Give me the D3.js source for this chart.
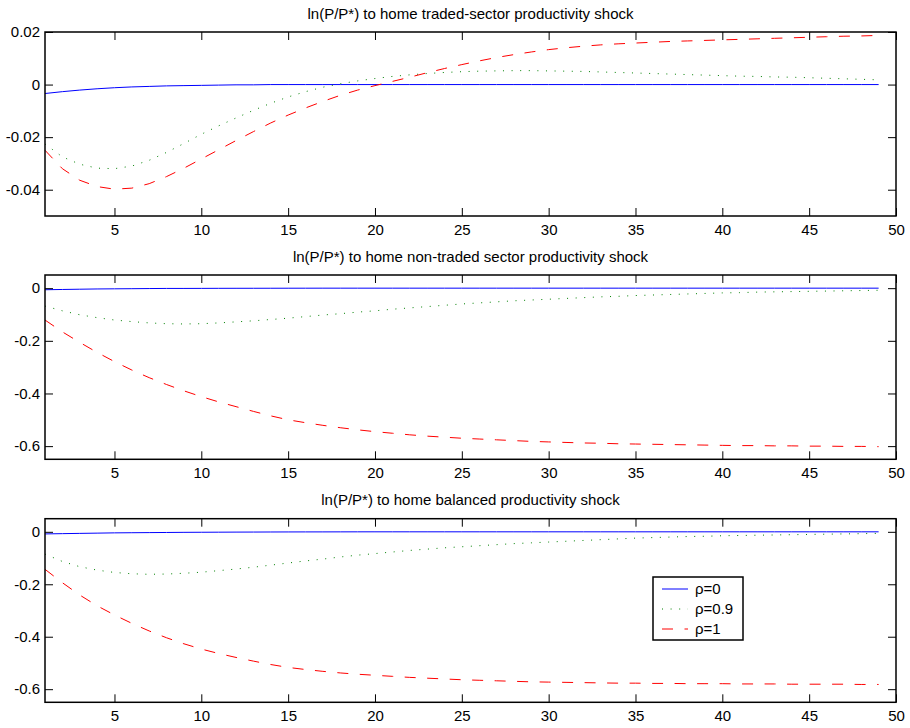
<!DOCTYPE html>
<html>
<head>
<meta charset="utf-8">
<script src="https://cdn.jsdelivr.net/npm/d3@7"></script>
<style>
  html, body { margin: 0; padding: 0; background: #fff; }
  svg { display: block; }
  text { font-family: "Liberation Sans", Arial, Helvetica, sans-serif; fill: #000; }
</style>
</head>
<body>
<svg id="chart" width="910" height="728"></svg>
<script>
// ---------------- data ----------------
const periods = d3.range(1, 50); // 1..49

const titles = [
  "ln(P/P*) to home traded-sector productivity shock",
  "ln(P/P*) to home non-traded sector productivity shock",
  "ln(P/P*) to home balanced productivity shock"
];

const seriesNames = ["ρ=0", "ρ=0.9", "ρ=1"];

const xTicks = [5, 10, 15, 20, 25, 30, 35, 40, 45, 50];
const yTicksTop = [-0.04, -0.02, 0, 0.02];
const yTicksLower = [-0.6, -0.4, -0.2, 0];
const yDomainTop = [-0.05, 0.02];
const yDomainLower = [-0.65, 0.05];

// Panel 1: traded-sector shock
const traded_rho0 = [-0.0034,-0.0027,-0.0021,-0.0016,-0.0012,-0.0009,-0.0007,-0.0005,-0.0004,-0.0003,
  -0.0002,-0.0001,-0.0001,0,0,0,0,0,0,0,0,0,0,0,0,0,0,0,0,0,0,0,0,0,0,0,0,0,0,0,0,0,0,0,0,0,0,0,0];
const traded_rho09 = [-0.0226,-0.0275,-0.0303,-0.0318,-0.0320,-0.0310,-0.0288,-0.0258,-0.0224,-0.0189,
  -0.0157,-0.0127,-0.0098,-0.0071,-0.0047,-0.0027,-0.0010,0.0003,0.0014,0.0023,
  0.0031,0.0037,0.0042,0.0046,0.0049,0.0051,0.0052,0.0053,0.0053,0.0052,
  0.0051,0.0050,0.0048,0.0046,0.0044,0.0042,0.0040,0.0038,0.0036,0.0034,
  0.0032,0.0031,0.0029,0.0028,0.0026,0.0024,0.0022,0.0020,0.0018];
const traded_rho1 = [-0.0250,-0.0320,-0.0364,-0.0388,-0.0398,-0.0394,-0.0377,-0.0350,-0.0318,-0.0283,
  -0.0248,-0.0213,-0.0179,-0.0146,-0.0116,-0.0089,-0.0064,-0.0041,-0.0021,-0.0004,
  0.0012,0.0028,0.0045,0.0061,0.0076,0.0090,0.0103,0.0114,0.0124,0.0133,
  0.0140,0.0146,0.0151,0.0155,0.0158,0.0161,0.0164,0.0166,0.0168,0.0170,
  0.0172,0.0174,0.0176,0.0178,0.0180,0.0182,0.0184,0.0185,0.0187];

// Panel 2: non-traded sector shock
const nontraded_rho0 = [-0.006,-0.005,-0.004,-0.003,-0.0025,-0.002,-0.0015,-0.001,-0.001,-0.0008,
  -0.0006,-0.0005,-0.0004,-0.0003,-0.0002,-0.0001,0,0,0,0,0,0,0,0,0,0,0,0,0,0,0,0,0,0,0,0,0,0,0,0,0,0,0,0,0,0,0,0,0];
const nontraded_rho09 = [-0.068,-0.086,-0.101,-0.112,-0.121,-0.127,-0.132,-0.135,-0.136,-0.135,
  -0.132,-0.128,-0.124,-0.119,-0.114,-0.108,-0.102,-0.097,-0.091,-0.086,
  -0.080,-0.075,-0.070,-0.065,-0.060,-0.056,-0.052,-0.048,-0.045,-0.042,
  -0.039,-0.036,-0.033,-0.031,-0.028,-0.026,-0.024,-0.022,-0.020,-0.018,
  -0.017,-0.015,-0.014,-0.013,-0.012,-0.011,-0.010,-0.009,-0.008];
const nontraded_rho1 = [-0.121,-0.166,-0.206,-0.244,-0.279,-0.311,-0.340,-0.366,-0.390,-0.412,
  -0.432,-0.450,-0.468,-0.485,-0.500,-0.511,-0.521,-0.530,-0.538,-0.545,
  -0.551,-0.557,-0.562,-0.566,-0.570,-0.573,-0.576,-0.579,-0.582,-0.584,
  -0.586,-0.588,-0.589,-0.591,-0.592,-0.593,-0.594,-0.595,-0.596,-0.597,
  -0.598,-0.598,-0.599,-0.599,-0.600,-0.600,-0.601,-0.601,-0.602];

// Panel 3: balanced shock
const balanced_rho0 = [-0.008,-0.007,-0.006,-0.005,-0.004,-0.0035,-0.003,-0.0025,-0.002,-0.0017,
  -0.0014,-0.0011,-0.0009,-0.0007,-0.0005,-0.0004,-0.0003,-0.0002,-0.0001,0,0,0,0,0,0,0,0,0,0,0,0,0,0,0,0,0,0,0,0,0,0,0,0,0,0,0,0,0,0];
const balanced_rho09 = [-0.085,-0.113,-0.133,-0.146,-0.155,-0.160,-0.162,-0.161,-0.158,-0.154,
  -0.148,-0.142,-0.135,-0.127,-0.119,-0.111,-0.104,-0.096,-0.089,-0.083,
  -0.077,-0.071,-0.066,-0.061,-0.057,-0.053,-0.049,-0.045,-0.042,-0.039,
  -0.036,-0.033,-0.030,-0.027,-0.024,-0.022,-0.020,-0.018,-0.017,-0.015,
  -0.014,-0.013,-0.012,-0.011,-0.010,-0.009,-0.008,-0.007,-0.006];
const balanced_rho1 = [-0.143,-0.194,-0.241,-0.282,-0.317,-0.349,-0.378,-0.404,-0.427,-0.447,
  -0.464,-0.479,-0.493,-0.506,-0.517,-0.525,-0.532,-0.538,-0.543,-0.547,
  -0.551,-0.555,-0.558,-0.561,-0.564,-0.566,-0.568,-0.570,-0.572,-0.573,
  -0.574,-0.575,-0.576,-0.577,-0.577,-0.578,-0.578,-0.579,-0.579,-0.579,
  -0.580,-0.580,-0.580,-0.581,-0.581,-0.581,-0.581,-0.582,-0.582];

// ---------------- layout / styles ----------------
const panels = [
  { title: titles[0], top: 32,    bottom: 216,   domain: yDomainTop,   ticks: yTicksTop,   series: [traded_rho0, traded_rho09, traded_rho1] },
  { title: titles[1], top: 275,   bottom: 459.3, domain: yDomainLower, ticks: yTicksLower, series: [nontraded_rho0, nontraded_rho09, nontraded_rho1] },
  { title: titles[2], top: 518.7, bottom: 702.3, domain: yDomainLower, ticks: yTicksLower, series: [balanced_rho0, balanced_rho09, balanced_rho1] }
];
const left = 45, right = 896;
const styles = [
  { color: "#0000ff", dash: null },
  { color: "#008000", dash: "1,7.6" },
  { color: "#ff0000", dash: "11,11.5" }
];
const fontSize = 15;
const tickLen = 8;

const svg = d3.select("#chart");
const x = d3.scaleLinear().domain([1, 50]).range([left, right]);
const fmt = d => (d === 0 ? "0" : String(d));

panels.forEach((p, pi) => {
  const y = d3.scaleLinear().domain(p.domain).range([p.bottom, p.top]);
  const g = svg.append("g");

  // lines
  const line = d3.line().x((d, i) => x(periods[i])).y(d => y(d));
  p.series.forEach((s, si) => {
    g.append("path")
      .datum(s)
      .attr("fill", "none")
      .attr("stroke", styles[si].color)
      .attr("stroke-width", 1)
      .attr("stroke-dasharray", styles[si].dash)
      .attr("d", line);
  });

  // axes (ticks inward)
  const ax = (axis, tf) => {
    const a = g.append("g").attr("transform", tf).call(axis);
    a.select(".domain").remove();
    a.selectAll(".tick line").attr("stroke", "#000").attr("stroke-width", 1);
    a.selectAll("text").style("font-size", fontSize + "px").attr("fill", "#000");
    return a;
  };
  ax(d3.axisBottom(x).tickValues(xTicks).tickFormat(d3.format("d")).tickSizeInner(-tickLen).tickSizeOuter(0).tickPadding(8),
     `translate(0,${p.bottom})`);
  ax(d3.axisTop(x).tickValues(xTicks).tickFormat("").tickSizeInner(-tickLen).tickSizeOuter(0),
     `translate(0,${p.top})`);
  ax(d3.axisLeft(y).tickValues(p.ticks).tickFormat(fmt).tickSizeInner(-tickLen).tickSizeOuter(0).tickPadding(5),
     `translate(${left},0)`);
  ax(d3.axisRight(y).tickValues(p.ticks).tickFormat("").tickSizeInner(-tickLen).tickSizeOuter(0),
     `translate(${right},0)`);

  // frame
  g.append("rect")
    .attr("x", left).attr("y", p.top)
    .attr("width", right - left).attr("height", p.bottom - p.top)
    .attr("fill", "none").attr("stroke", "#000").attr("stroke-width", 1.5);

  // title
  g.append("text")
    .attr("x", (left + right) / 2).attr("y", p.top - 13.5)
    .attr("text-anchor", "middle")
    .style("font-size", fontSize + "px")
    .text(p.title);
});

// legend (in bottom panel)
const lg = svg.append("g").attr("transform", "translate(653,577)");
lg.append("rect").attr("width", 90).attr("height", 63)
  .attr("fill", "#fff").attr("stroke", "#000").attr("stroke-width", 1.5);
seriesNames.forEach((name, i) => {
  const yy = 12 + i * 20;
  lg.append("line").attr("x1", 9).attr("x2", 35).attr("y1", yy).attr("y2", yy)
    .attr("stroke", styles[i].color).attr("stroke-width", 1)
    .attr("stroke-dasharray", styles[i].dash);
  lg.append("text").attr("x", 42).attr("y", yy).attr("dy", "0.35em")
    .style("font-size", fontSize + "px").text(name);
});
</script>
</body>
</html>
